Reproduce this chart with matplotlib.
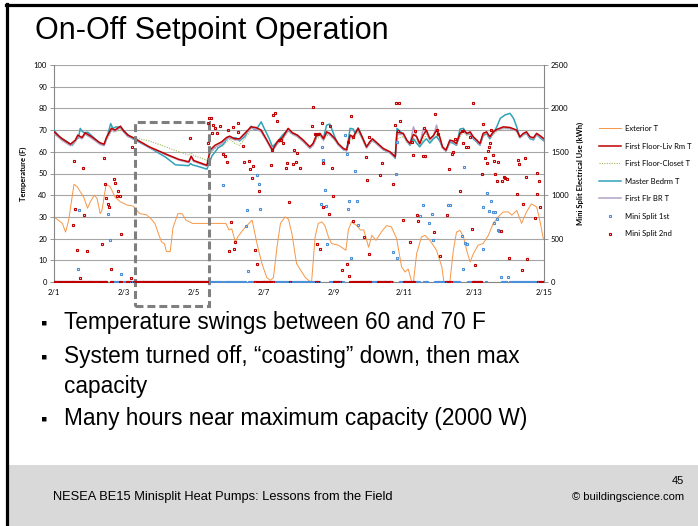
import numpy as np
import matplotlib
matplotlib.use("Agg")
import matplotlib.pyplot as plt
from matplotlib.patches import Rectangle
from matplotlib.lines import Line2D

# ---- data (days after 2/1, temperatures in F, mini split use on right axis) ----
t_ext = [0, 0.24, 0.33, 0.42, 0.57, 0.66, 0.85, 0.96, 1.04, 1.15,
         1.23, 1.32, 1.37, 1.49, 1.6, 1.75, 1.89, 2.08, 2.26, 2.45,
         2.64, 2.78, 2.88, 2.97, 3.07, 3.16, 3.21, 3.32, 3.4, 3.54,
         3.66, 3.77, 3.96, 4.34, 4.91, 5.0, 5.08, 5.18, 5.26, 5.45,
         5.66, 5.8, 5.94, 6.08, 6.18, 6.27, 6.37, 6.47, 6.6, 6.7,
         6.8, 6.93, 7.08, 7.17, 7.27, 7.36, 7.46, 7.55, 7.65, 7.74,
         7.84, 7.93, 8.12, 8.27, 8.34, 8.41, 8.5, 8.65, 8.75, 8.85,
         8.99, 9.08, 9.2, 9.35, 9.5, 9.64, 9.79, 9.93, 10.03, 10.12,
         10.22, 10.27, 10.36, 10.5, 10.6, 10.74, 10.93, 11.08, 11.14, 11.31,
         11.41, 11.5, 11.6, 11.7, 11.79, 11.89, 11.98, 12.12, 12.26, 12.41,
         12.55, 12.69, 12.84, 12.98, 13.08, 13.22, 13.36, 13.5, 13.64, 13.79,
         13.88, 13.98]
ext_T = [30, 27, 23, 28.5, 45, 44, 39, 34, 37, 40,
         38.5, 31.5, 33, 45, 44, 39, 37, 35.5, 35, 31.5,
         31, 29, 27, 23, 18.5, 17.5, 14, 14, 25, 31.5,
         31.5, 28.5, 27, 27, 27, 24, 24.5, 18.5, 21, 25,
         28.5, 17.7, 8.5, 2, 0.8, 2, 16, 27, 30, 29,
         22, 8.5, 4.6, 2.3, 0.8, 0, 20.8, 27, 27.7, 26,
         20.8, 17.7, 17, 15.4, 14.6, 24, 27.7, 26, 24, 24,
         16, 21.5, 19.2, 23, 26, 25.4, 20, 7, 4.6, 6,
         0, 0, 13, 20.8, 21.5, 19.2, 14.6, 7, 0, 0,
         14.6, 23, 23.8, 20.8, 14.6, 9.2, 13, 17, 17.7, 21.5,
         27, 30, 32.3, 32.3, 30.8, 33, 27, 32.3, 36, 34.6,
         28.5, 20]

t_in = [0, 0.23, 0.47, 0.61, 0.68, 0.8, 0.89, 1.08, 1.31, 1.43,
        1.5, 1.64, 1.74, 1.9, 1.97, 2.11, 2.3, 2.72, 3.19, 3.57,
        3.85, 3.92, 3.99, 4.23, 4.37, 4.46, 4.6, 4.79, 4.93, 5.02,
        5.16, 5.3, 5.45, 5.63, 5.77, 5.92, 6.06, 6.24, 6.38, 6.53,
        6.69, 6.81, 6.95, 7.12, 7.31, 7.4, 7.5, 7.6, 7.7, 7.79,
        7.88, 8.03, 8.12, 8.27, 8.36, 8.46, 8.55, 8.69, 8.8, 8.93,
        9.02, 9.1, 9.25, 9.41, 9.6, 9.7, 9.75, 9.8, 9.98, 10.08,
        10.17, 10.27, 10.36, 10.45, 10.55, 10.64, 10.74, 10.84, 10.93, 11.02,
        11.1, 11.2, 11.31, 11.4, 11.5, 11.6, 11.7, 11.8, 11.89, 11.98,
        12.08, 12.17, 12.26, 12.36, 12.45, 12.55, 12.65, 12.84, 13.03, 13.22,
        13.31, 13.41, 13.5, 13.6, 13.7, 13.79, 13.88, 14.0]
livrm_T = [69.2, 66.0, 63.5, 65.4, 67.7, 66.6, 68.8, 66.9, 64.2, 63.5,
           66.6, 70.8, 70.0, 71.8, 70.0, 67.7, 66.2, 62.3, 59.0, 56.5,
           55.4, 58.0, 56.0, 54.6, 53.8, 60.8, 63.0, 64.6, 66.6, 67.2,
           66.0, 66.0, 68.5, 71.5, 71.2, 70.0, 66.0, 60.8, 64.6, 66.6,
           70.8, 68.8, 67.7, 65.4, 62.3, 63.8, 67.7, 68.5, 66.0, 69.2,
           68.5, 66.0, 63.8, 61.5, 61.0, 67.7, 66.9, 70.8, 67.0, 62.3,
           64.6, 66.0, 63.8, 61.5, 60.0, 58.5, 57.7, 69.0, 68.5, 65.4,
           63.8, 68.0, 67.0, 63.8, 67.7, 70.0, 66.0, 67.5, 70.0, 66.9,
           62.3, 60.8, 65.4, 65.0, 63.8, 68.5, 70.0, 68.5, 69.2, 66.9,
           65.4, 63.8, 68.5, 69.2, 66.9, 69.2, 70.3, 71.5, 71.2, 70.0,
           66.9, 68.5, 69.2, 66.9, 66.5, 68.5, 67.5, 66.0]
closet_T = [68.5, 65.5, 63.0, 64.5, 66.5, 66.0, 68.0, 66.3, 63.8, 63.0,
            65.5, 69.5, 69.0, 70.5, 69.5, 67.5, 66.5, 65.0, 62.3, 60.0,
            58.5, 59.5, 58.3, 57.0, 56.0, 59.0, 61.5, 62.5, 64.5, 66.0,
            64.0, 63.0, 66.0, 70.0, 70.5, 69.0, 65.5, 60.5, 63.5, 65.5,
            69.5, 68.0, 67.0, 64.5, 61.5, 62.5, 66.0, 67.0, 65.0, 67.5,
            67.5, 65.0, 63.0, 61.0, 60.5, 65.5, 66.0, 69.0, 66.0, 61.5,
            63.5, 65.0, 63.0, 61.0, 59.5, 58.5, 58.0, 66.0, 67.0, 64.5,
            63.0, 66.0, 65.5, 63.0, 65.5, 68.0, 65.0, 66.0, 68.0, 65.5,
            61.5, 60.0, 64.0, 64.0, 63.0, 67.0, 69.0, 67.5, 68.0, 66.0,
            64.5, 63.0, 67.0, 68.0, 66.0, 68.0, 69.5, 70.5, 70.5, 69.5,
            66.5, 67.5, 68.5, 66.5, 66.0, 68.0, 67.0, 65.5]
br_T = [68.5, 65.3, 62.8, 64.8, 67.0, 66.0, 68.2, 66.2, 63.5, 62.8,
        66.0, 70.0, 69.5, 71.3, 69.5, 67.0, 65.8, 62.0, 58.7, 56.2,
        55.0, 57.5, 55.6, 54.2, 53.4, 59.8, 62.0, 63.8, 66.0, 66.6,
        65.5, 65.5, 68.0, 71.0, 70.5, 69.3, 65.5, 60.2, 63.8, 66.0,
        70.0, 68.2, 67.0, 64.8, 61.7, 63.0, 67.0, 68.0, 65.5, 68.5,
        68.0, 65.5, 63.2, 61.0, 60.5, 66.8, 66.5, 70.2, 66.5, 61.8,
        64.0, 65.5, 63.2, 61.0, 59.5, 58.2, 57.5, 68.0, 68.0, 65.0,
        63.3, 71.5, 67.0, 63.3, 70.5, 69.0, 65.5, 67.0, 72.3, 66.5,
        61.8, 60.3, 65.0, 64.5, 63.3, 68.0, 69.5, 68.0, 68.7, 66.5,
        65.0, 63.3, 68.0, 68.7, 66.5, 68.7, 69.8, 71.0, 70.7, 69.5,
        66.5, 68.0, 68.7, 66.5, 66.0, 68.0, 67.0, 65.5]

t_master = [0, 0.15, 0.38, 0.52, 0.64, 0.7, 0.75, 0.8, 0.86, 0.97,
            1.13, 1.31, 1.43, 1.52, 1.62, 1.68, 1.78, 1.92, 2.07, 2.25,
            2.72, 3.19, 3.47, 3.85, 3.9, 3.95, 4.13, 4.37, 4.51, 4.69,
            4.83, 4.98, 5.07, 5.2, 5.3, 5.45, 5.63, 5.77, 5.92, 6.0,
            6.15, 6.24, 6.38, 6.53, 6.67, 6.81, 6.95, 7.12, 7.31, 7.4,
            7.5, 7.6, 7.7, 7.79, 7.88, 8.03, 8.12, 8.27, 8.36, 8.46,
            8.55, 8.6, 8.69, 8.8, 8.93, 9.02, 9.1, 9.25, 9.41, 9.6,
            9.7, 9.75, 9.8, 9.98, 10.08, 10.17, 10.27, 10.36, 10.45, 10.55,
            10.64, 10.74, 10.84, 10.93, 11.02, 11.1, 11.2, 11.31, 11.4, 11.5,
            11.6, 11.7, 11.8, 11.89, 11.98, 12.08, 12.17, 12.26, 12.36, 12.45,
            12.55, 12.65, 12.75, 12.89, 13.03, 13.13, 13.22, 13.31, 13.41, 13.5,
            13.6, 13.7, 13.79, 13.88, 14.0]
master_T = [70.0, 67.0, 64.6, 63.0, 65.7, 66.5, 70.8, 69.5, 68.8, 69.0,
            66.6, 63.8, 63.0, 67.0, 73.0, 70.8, 71.5, 71.2, 68.5, 66.0,
            62.0, 57.5, 54.0, 53.6, 54.6, 54.0, 53.2, 52.0, 58.0, 61.8,
            63.3, 66.8, 66.2, 66.5, 65.0, 67.0, 71.8, 70.0, 73.8, 71.0,
            66.0, 62.3, 64.6, 67.7, 70.0, 68.5, 67.7, 65.0, 61.8, 63.5,
            67.0, 68.0, 66.5, 72.3, 72.8, 66.5, 63.5, 61.0, 60.5, 70.8,
            70.5, 68.5, 71.0, 67.0, 62.0, 64.0, 65.5, 63.5, 61.0, 59.5,
            58.0, 57.0, 70.8, 68.0, 65.0, 63.0, 66.0, 64.0, 62.3, 64.5,
            66.0, 64.0, 66.0, 67.0, 65.0, 62.0, 60.5, 64.5, 64.0, 63.0,
            70.5, 70.8, 68.0, 68.5, 66.0, 64.5, 63.0, 67.5, 68.5, 66.0,
            68.5, 71.5, 75.4, 77.0, 77.7, 75.4, 71.5, 66.5, 68.0, 68.5,
            66.0, 65.5, 68.0, 66.5, 65.0]

# mini split readings that are not zero
ms1_t = [0.68, 0.72, 1.55, 1.6, 1.92, 4.84, 5.49, 5.52, 5.54, 5.8,
         5.85, 5.89, 7.63, 7.65, 7.69, 7.74, 7.77, 7.81, 8.31, 8.36,
         8.41, 8.44, 8.49, 8.6, 8.65, 8.7, 9.7, 9.77, 9.79, 9.81,
         10.46, 10.53, 10.72, 10.79, 10.82, 11.27, 11.31, 11.65, 11.7, 11.71,
         11.74, 11.79, 12.25, 12.27, 12.38, 12.44, 12.5, 12.55, 12.6, 12.58,
         12.65, 12.69, 12.72, 12.76, 12.98]
ms1_w = [154, 825, 780, 488, 88, 1115, 642, 835, 127, 1238,
         1127, 846, 904, 1558, 1404, 1058, 877, 442, 1692, 1469,
         838, 935, 281, 1277, 931, 654, 342, 1242, 1615, 277,
         762, 885, 685, 781, 488, 885, 885, 535, 154, 1327,
         454, 435, 865, 385, 1027, 819, 935, 808, 808, 685,
         731, 596, 590, 58, 58]

ms2_t = [0.53, 0.56, 0.61, 0.65, 0.75, 0.82, 0.85, 0.93, 1.38, 1.44,
         1.46, 1.5, 1.55, 1.58, 1.62, 1.71, 1.74, 1.8, 1.83, 1.88,
         1.92, 2.2, 2.23, 3.88, 4.39, 4.41, 4.44, 4.48, 4.51, 4.55,
         4.6, 4.65, 4.74, 4.84, 4.88, 4.93, 4.98, 4.99, 5.07, 5.12,
         5.15, 5.18, 5.26, 5.27, 5.4, 5.43, 5.56, 5.59, 5.66, 5.68,
         5.73, 5.8, 5.85, 6.2, 6.24, 6.27, 6.31, 6.38, 6.43, 6.48,
         6.55, 6.62, 6.67, 6.71, 6.84, 6.87, 6.9, 6.95, 7.03, 7.36,
         7.41, 7.46, 7.5, 7.52, 7.55, 7.6, 7.65, 7.68, 7.7, 7.87,
         7.88, 7.93, 7.98, 8.22, 8.36, 8.41, 8.44, 8.5, 8.53, 8.55,
         8.86, 8.91, 8.95, 9.0, 9.01, 9.31, 9.36, 9.7, 9.74, 9.77,
         9.84, 9.87, 9.9, 9.98, 10.17, 10.22, 10.25, 10.31, 10.36, 10.41,
         10.53, 10.57, 10.6, 10.86, 10.89, 10.93, 10.97, 11.03, 11.22, 11.28,
         11.36, 11.4, 11.46, 11.6, 11.65, 11.7, 11.77, 11.84, 11.89, 11.93,
         11.98, 12.03, 12.22, 12.26, 12.31, 12.36, 12.41, 12.44, 12.46, 12.5,
         12.55, 12.57, 12.6, 12.65, 12.68, 12.76, 12.8, 12.85, 12.9, 12.95,
         13.0, 13.22, 13.27, 13.29, 13.36, 13.41, 13.46, 13.5, 13.52, 13.74,
         13.79, 13.81, 13.86, 13.9]
ms2_w = [662, 1392, 846, 365, 46, 1319, 769, 358, 435, 1423,
         1127, 969, 896, 865, 154, 1192, 1135, 992, 1050, 992,
         550, 50, 1558, 1654, 1827, 1596, 1885, 1885, 1712, 1808,
         1769, 1712, 1796, 1473, 1450, 1385, 1750, 354, 692, 1781,
         377, 462, 1827, 1731, 1569, 1385, 1396, 1300, 1200, 1335,
         365, 212, 1050, 1346, 1519, 1923, 1942, 1858, 1635, 1635,
         1596, 1319, 1373, 923, 1365, 1519, 1385, 1481, 1319, 1796,
         2011, 1704, 1704, 442, 1704, 385, 1835, 865, 1373, 788,
         1796, 1308, 992, 142, 212, 1615, 65, 1915, 704, 1673,
         519, 1442, 1173, 1665, 327, 1238, 1373, 1127, 1808, 2058,
         1738, 2058, 1858, 719, 462, 1615, 1462, 1742, 769, 700,
         1454, 1777, 1454, 577, 1935, 1750, 1700, 300, 777, 1300,
         1473, 1500, 1642, 1046, 1742, 1604, 1550, 1550, 1673, 615,
         2058, 192, 1242, 1819, 1423, 1373, 1511, 1550, 1596, 1750,
         1462, 1396, 1250, 1165, 1385, 585, 1165, 1211, 1200, 1190,
         281, 1019, 1404, 1358, 142, 904, 1423, 1204, 269, 742,
         1011, 1258, 1162, 865]

# periods (days) where the 2nd floor unit reads zero
ms2_off_start = [0.0, 1.6, 1.85, 2.05, 2.28, 5.72, 6.72, 7.5, 8.0, 8.45, 9.25, 9.97, 11.2, 11.92, 13.82]
ms2_off_end = [1.52, 1.7, 1.95, 2.2, 4.38, 6.25, 6.78, 7.58, 8.2, 9.05, 9.65, 10.3, 11.35, 12.22, 14.0]

day_ticks = [0, 2, 4, 6, 8, 10, 12, 14]
day_labels = ["2/1", "2/3", "2/5", "2/7", "2/9", "2/11", "2/13", "2/15"]

bullets = ["Temperature swings between 60 and 70 F",
           "System turned off, \u201ccoasting\u201d down, then max",
           "Many hours near maximum capacity (2000 W)"]

# ---- figure ----
W, H = 698, 526
fig = plt.figure(figsize=(W / 100, H / 100), dpi=100)
fig.patch.set_facecolor("white")

def fx(x):
    return x / W

def fy(y):
    return 1 - y / H

# slide frame + footer band
fig.add_artist(Rectangle((fx(9), 0), 1 - fx(9), fy(465), transform=fig.transFigure,
                         facecolor="#D9D9D9", edgecolor="none", zorder=0))
fig.add_artist(Line2D([fx(6), 1], [fy(5), fy(5)], transform=fig.transFigure, color="black", lw=2.3))
fig.add_artist(Line2D([fx(7.5), fx(7.5)], [0, fy(4)], transform=fig.transFigure, color="black", lw=2.3))

slide_font = "Liberation Sans"
fig.text(fx(35), fy(31), "On-Off Setpoint Operation", fontsize=22, family=slide_font, va="center", ha="left")

bullet_y = [323, 357, 419]
for y, txt in zip(bullet_y, bullets):
    fig.text(fx(41), fy(y + 1), "\u25aa", fontsize=13, family=[slide_font, "DejaVu Sans"], va="center", ha="left")
    fig.text(fx(64), fy(y), txt, fontsize=16.3, family=slide_font, va="center", ha="left")
fig.text(fx(64), fy(387), "capacity", fontsize=16.3, family=slide_font, va="center", ha="left")

fig.text(fx(53), fy(497), "NESEA BE15 Minisplit Heat Pumps: Lessons from the Field", fontsize=9.3,
         family=slide_font, va="center", ha="left")
fig.text(fx(684), fy(481), "45", fontsize=8, family=slide_font, va="center", ha="right")
fig.text(fx(684), fy(497), "\u00a9 buildingscience.com", fontsize=8, family=slide_font, va="center", ha="right")

# ---- chart ----
chart_font = "Lato"
ax = fig.add_axes([fx(54), fy(282), fx(544) - fx(54), fy(65) - fy(282)])
ax2 = ax.twinx()

l_ext, = ax.plot(t_ext, ext_T, color="#F79646", lw=0.7, label="Exterior T")
l_liv, = ax.plot(t_in, livrm_T, color="#C00000", lw=1.1, label="First Floor-Liv Rm T", zorder=4)
l_clo, = ax.plot(t_in, closet_T, color="#9BBB59", lw=0.8, ls=(0, (1, 1.2)), label="First Floor-Closet T", zorder=3)
l_mas, = ax.plot(t_master, master_T, color="#31A2B8", lw=1.1, label="Master Bedrm T", zorder=3)
l_br, = ax.plot(t_in, br_T, color="#B3A2C7", lw=1.1, label="First Flr BR T", zorder=3)

# hourly zero readings
hours = np.arange(0, 14 * 24 + 1) / 24.0
ms1_zero = np.array([h for h in hours if min(abs(h - t) for t in ms1_t) > 0.03])
ms2_zero = np.array([h for h in hours if any(a <= h <= b for a, b in zip(ms2_off_start, ms2_off_end))])

mk = dict(marker="s", ms=2.0, mfc="none", mew=0.8, ls="none")
ax2.plot(ms1_zero, np.zeros(len(ms1_zero)), color="#4A8FD8", **mk)
s1, = ax2.plot(ms1_t, ms1_w, color="#4A8FD8", label="Mini Split 1st", **mk)
ax2.plot(ms2_zero, np.zeros(len(ms2_zero)), color="#C00000", **mk)
s2, = ax2.plot(ms2_t, ms2_w, color="#C00000", label="Mini Split 2nd", **mk)

ax.set_xlim(0, 14)
ax.set_ylim(0, 100)
ax2.set_ylim(0, 2500)
ax.set_yticks(range(0, 101, 10))
ax2.set_yticks(range(0, 2501, 500))
ax.set_xticks(day_ticks)
ax.set_xticklabels(day_labels)
ax.grid(axis="y", color="#A6A6A6", lw=0.8)
ax.set_axisbelow(True)

for a in (ax, ax2):
    a.spines["top"].set_visible(False)
    a.tick_params(labelsize=5.5, length=3, width=0.6, color="#868686", pad=2)
    for lab in a.get_xticklabels() + a.get_yticklabels():
        lab.set_family(chart_font)
ax.spines["left"].set_color("#868686")
ax.spines["bottom"].set_color("#868686")
ax2.spines["right"].set_color("#868686")
ax2.spines["left"].set_visible(False)
ax2.spines["bottom"].set_visible(False)
ax.spines["right"].set_visible(False)
ax.tick_params(axis="x", length=0, pad=5)

ax.set_ylabel("Temperature (F)", fontsize=5.5, fontweight="bold", family=chart_font, labelpad=5)
ax2.set_ylabel("Mini Split Electrical Use (kWh)", fontsize=5.5, fontweight="bold", family=chart_font, labelpad=6)

# dashed box around the coasting period
ax.add_patch(Rectangle((2.31, -11), 4.43 - 2.31, 73.8 + 11, fill=False, edgecolor="#7F7F7F",
                       lw=2.2, ls=(0, (2.6, 1.3)), clip_on=False, zorder=6))

fig.legend(handles=[l_ext, l_liv, l_clo, l_mas, l_br, s1, s2], loc="upper left",
           bbox_to_anchor=(fx(599), fy(125)), frameon=False, prop={"family": chart_font, "size": 5.5},
           handlelength=2.9, handletextpad=0.45, labelspacing=1.38, borderaxespad=0, borderpad=0)

fig.savefig("out.png", dpi=100)
